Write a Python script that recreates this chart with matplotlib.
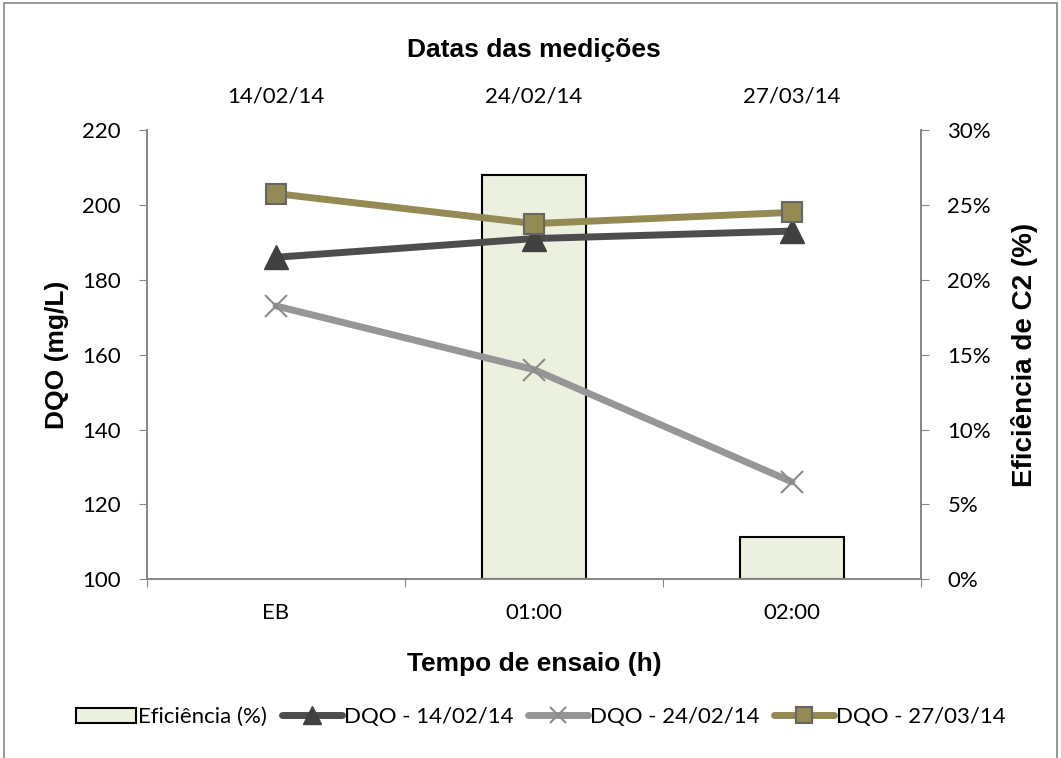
import matplotlib

matplotlib.use("Agg")
import matplotlib.pyplot as plt
from matplotlib.patches import Rectangle
from matplotlib.ticker import FuncFormatter, FixedLocator

# data
tempos = ["EB", "01:00", "02:00"]
datas = ["14/02/14", "24/02/14", "27/03/14"]
eficiencia = [0.0, 27.0, 2.8]  # %
dqo_1402 = [186, 191, 193]
dqo_2402 = [173, 156, 126]
dqo_2703 = [203, 195, 198]

plt.rcParams["font.family"] = ["Lato", "DejaVu Sans"]
grey = "#868686"
bold = dict(family="Liberation Sans", fontweight="bold")

fig = plt.figure(figsize=(10.61, 7.58), dpi=100)
ax = fig.add_axes([0.1385, 0.2358, 0.7295, 0.5927])
ax2 = ax.twinx()

x = list(range(len(tempos)))

# bars on the right axis, drawn behind the lines (no outline for an empty bar)
edges = ["black" if v > 0 else "none" for v in eficiencia]
bars = ax2.bar(x, eficiencia, width=0.4, color="#EBF1DE", edgecolor=edges,
               linewidth=1.5, label="Eficiência (%)")
ax.set_zorder(ax2.get_zorder() + 1)
ax.patch.set_visible(False)

line_kw = dict(lw=5, solid_capstyle="round", solid_joinstyle="round")
l1, = ax.plot(x, dqo_1402, color="#4D4D4D", marker="^", ms=17,
              mfc="#404040", mec="#404040", label="DQO - 14/02/14", **line_kw)
l2, = ax.plot(x, dqo_2402, color="#969696", marker="x", ms=16, mew=1.5,
              mec="#8C8C8C", label="DQO - 24/02/14", **line_kw)
l3, = ax.plot(x, dqo_2703, color="#948A54", marker="s", ms=15, mew=1.5,
              mfc="#948A54", mec="#666666", label="DQO - 27/03/14", **line_kw)

ax.set_xlim(-0.5, 2.5)
ax.set_ylim(100, 220)
ax.set_yticks(range(100, 221, 20))
ax2.set_ylim(0, 30)
ax2.set_yticks(range(0, 31, 5))
ax2.yaxis.set_major_formatter(FuncFormatter(lambda v, p: f"{v:.0f}%"))

# category boundaries as ticks, names centred
ax.xaxis.set_major_locator(FixedLocator([-0.5, 0.5, 1.5, 2.5]))
ax.xaxis.set_major_formatter(FuncFormatter(lambda v, p: ""))
ax.xaxis.set_minor_locator(FixedLocator(x))
ax.set_xticklabels(tempos, minor=True)
ax.tick_params(axis="x", which="major", direction="out", length=6, color=grey)
ax.tick_params(axis="x", which="minor", length=0, pad=17, labelsize=16)

for a in (ax, ax2):
    for s in a.spines.values():
        s.set_color(grey)
        s.set_linewidth(1.2)
    a.spines["top"].set_visible(False)
ax.tick_params(axis="y", direction="out", length=6, color=grey, pad=13, labelsize=16)
ax2.tick_params(axis="y", direction="out", length=6, color=grey, pad=13, labelsize=16)

ax.set_ylabel("DQO (mg/L)", fontsize=19, **bold)
ax.yaxis.set_label_coords(-0.101, 0.5)
ax2.set_ylabel("Eficiência de C2 (%)", fontsize=20, rotation=90, **bold)
ax2.yaxis.set_label_coords(1.116, 0.5)
ax.set_xlabel("Tempo de ensaio (h)", fontsize=19, **bold)
ax.xaxis.set_label_coords(0.5, -0.162)

# dates on top
top = ax.secondary_xaxis("top")
top.set_xticks(x)
top.set_xticklabels(datas)
top.tick_params(length=0, pad=17, labelsize=16)
top.spines["top"].set_visible(False)
top.set_xlabel("Datas das medições", fontsize=19, labelpad=21, **bold)

# legend: use the outlined bar as the patch handle
fig.legend([bars[1], l1, l2, l3],
           ["Eficiência (%)", "DQO - 14/02/14", "DQO - 24/02/14", "DQO - 27/03/14"],
           loc="center", bbox_to_anchor=(0.51, 0.054), ncol=4, frameon=False,
           fontsize=16, handlelength=2.7, handletextpad=0.1, columnspacing=0.65,
           markerscale=0.75, borderpad=0.2)

fig.patches.append(Rectangle((0.004, -0.02), 0.992, 1.016, transform=fig.transFigure,
                             fill=False, edgecolor=grey, linewidth=1.2))

fig.savefig("out.png", dpi=100)
